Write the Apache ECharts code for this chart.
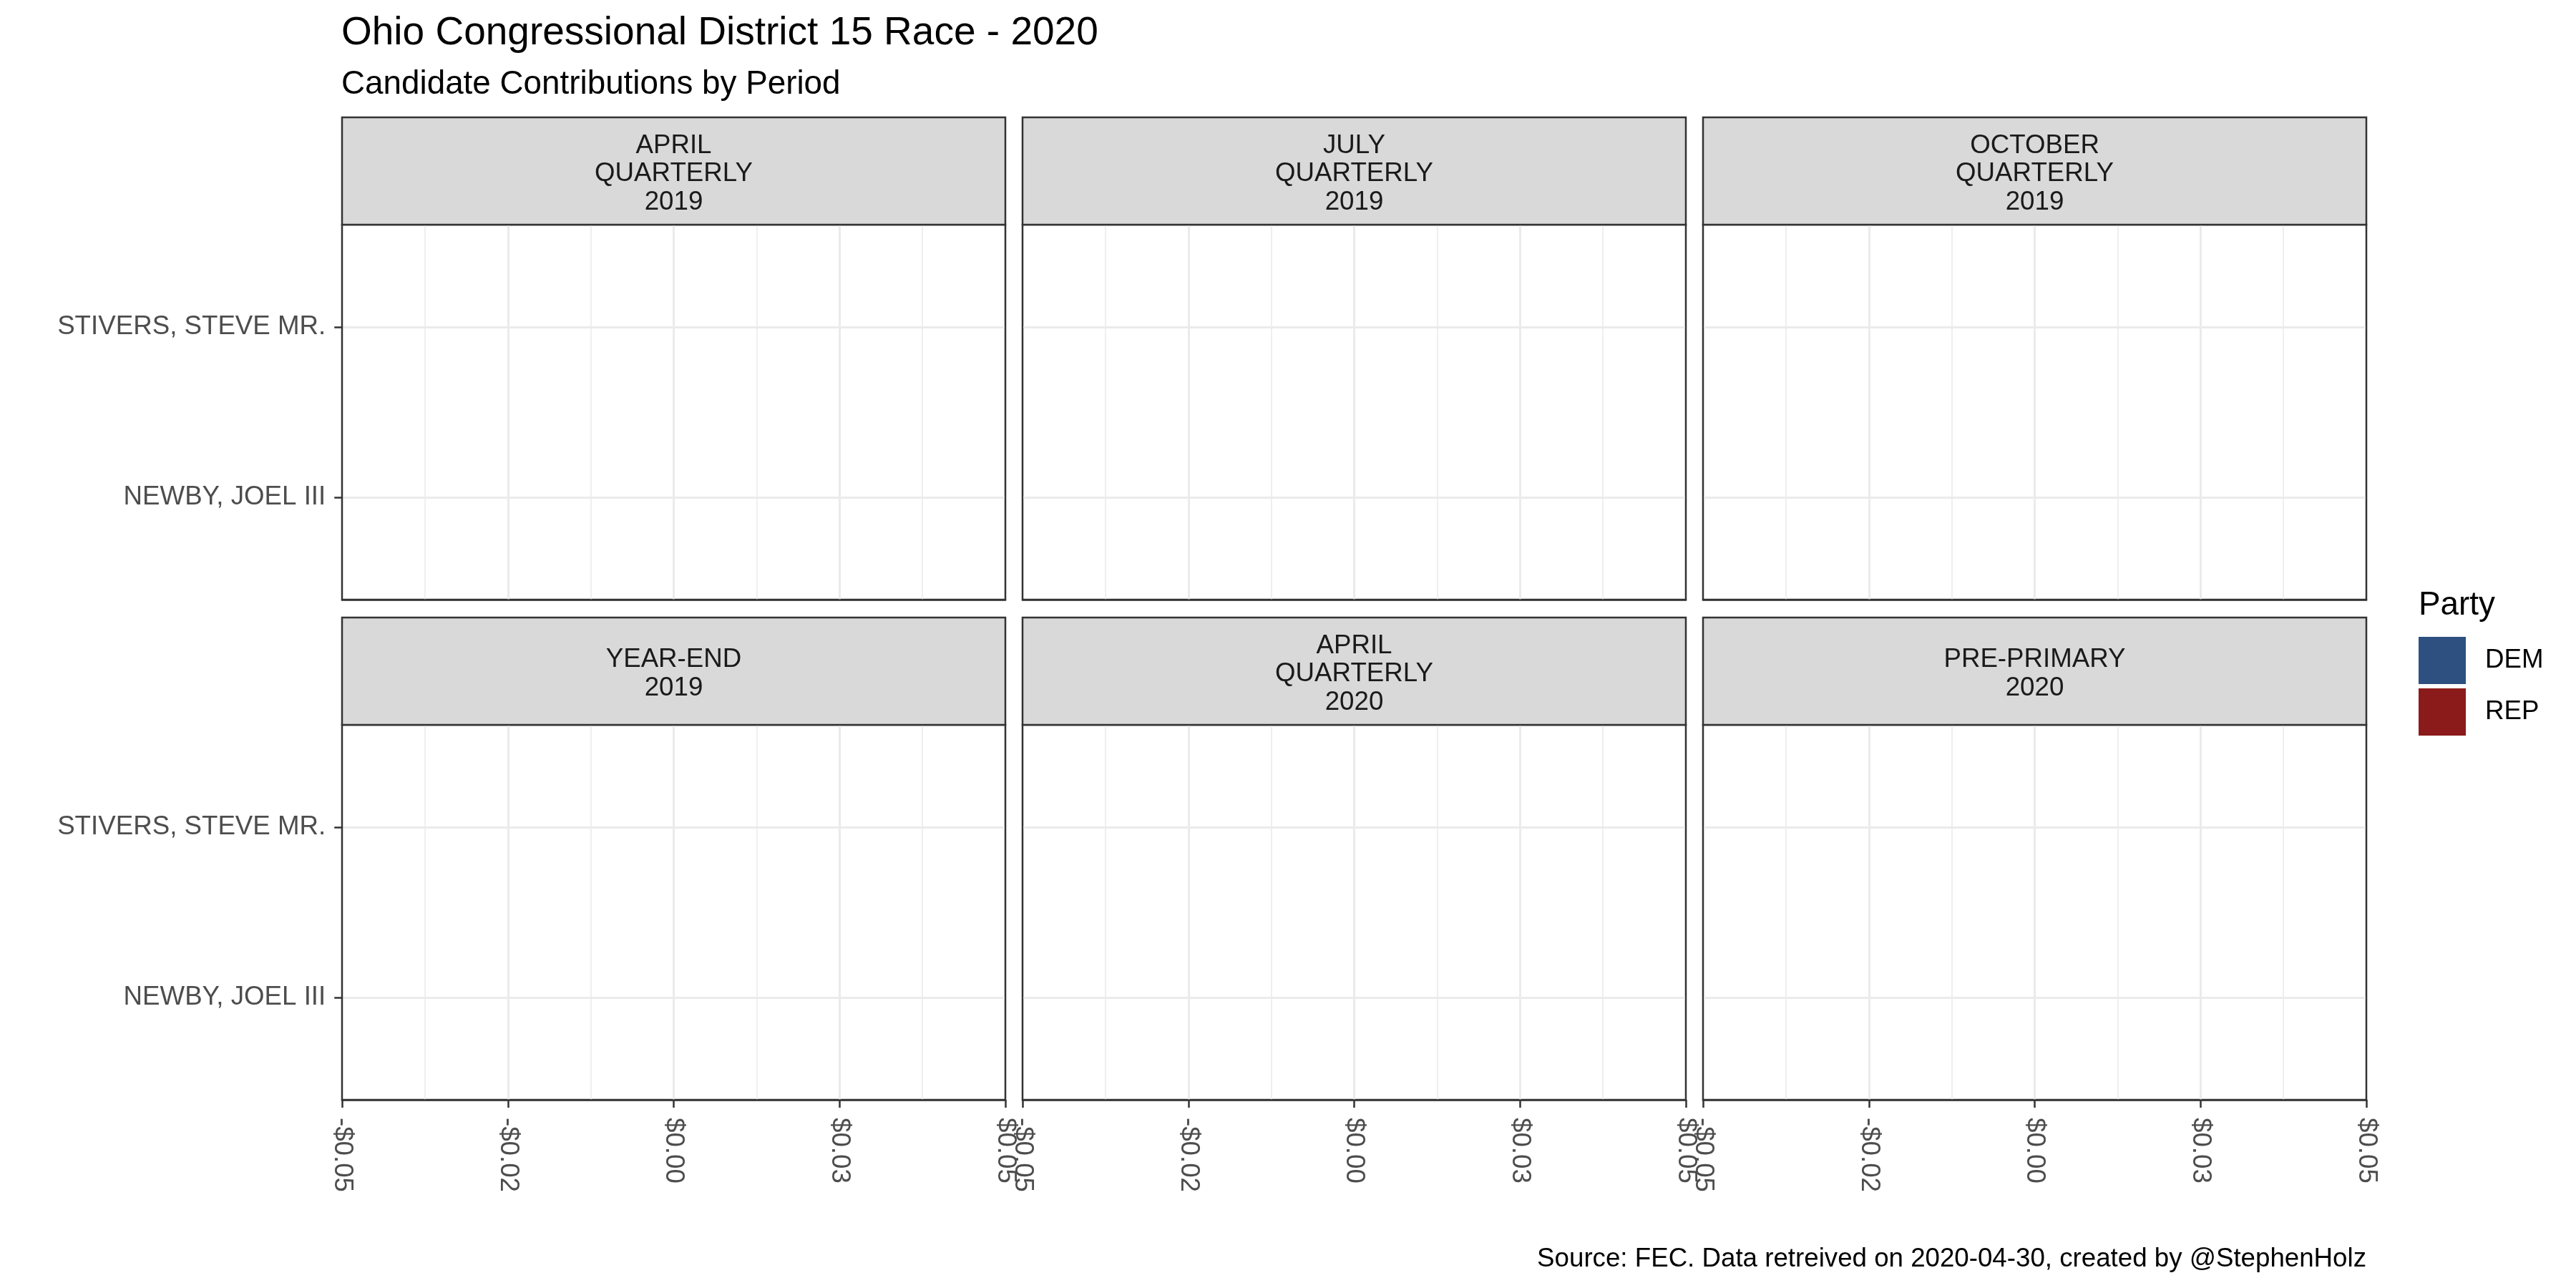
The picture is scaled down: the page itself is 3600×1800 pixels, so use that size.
<!DOCTYPE html>
<html>
<head>
<meta charset="utf-8">
<script src="https://cdn.jsdelivr.net/npm/echarts@6/dist/echarts.min.js"></script>
<style>
html,body{margin:0;padding:0;background:#fff;}
#chart{width:3600px;height:1800px;}
</style>
</head>
<body>
<div id="chart"></div>
<script>
// ---- data ----
const periods = ["APRIL\nQUARTERLY\n2019", "JULY\nQUARTERLY\n2019", "OCTOBER\nQUARTERLY\n2019",
                 "YEAR-END\n2019", "APRIL\nQUARTERLY\n2020", "PRE-PRIMARY\n2020"];
const candidates = ["NEWBY, JOEL III", "STIVERS, STEVE MR."];
const candidateParty = ["DEM", "REP"];
const parties = ["DEM", "REP"];
// contributions per period, per candidate (all zero in the source)
const contributions = [
  [0, 0], [0, 0], [0, 0],
  [0, 0], [0, 0], [0, 0]
];
const xTicks = [-0.05, -0.025, 0, 0.025, 0.05];
const xTickLabels = ["-$0.05", "-$0.02", "$0.00", "$0.03", "$0.05"];

// ---- styles / layout ----
const FONT = "'Liberation Sans', Arial, sans-serif";
const partyColors = { DEM: "#2E5081", REP: "#8B1A1A" };
const colLeft = [478, 1429, 2380];
const panelW = 927;
const stripTop = [164, 863];
const stripH = 150;
const plotTop = [314, 1013];
const plotH = 524;
const unit = plotH / 2.2;
const borderW = 2.5;

const grids = [], xAxes = [], yAxes = [], series = [], graphics = [];

periods.forEach((p, i) => {
  const r = Math.floor(i / 3), c = i % 3;
  const left = colLeft[c];
  const bottomRow = r === 1, leftCol = c === 0;
  // frame grid
  grids.push({ left: left, top: plotTop[r], width: panelW, height: plotH,
    show: true, borderColor: '#333333', borderWidth: borderW, backgroundColor: '#fff' });
  // category grid
  grids.push({ left: left + 1.25, top: plotTop[r] + 0.6 * unit, width: panelW - 2.5, height: unit, show: false });

  xAxes.push({
    gridIndex: 2 * i, type: 'value', min: -0.05, max: 0.05, interval: 0.025, position: 'bottom',
    axisLine: { show: true, onZero: false, lineStyle: { color: '#333333', width: borderW } },
    axisTick: { show: bottomRow, length: 11, lineStyle: { color: '#333333', width: borderW } },
    axisLabel: { show: bottomRow, rotate: -90, margin: 25, fontSize: 36.7, color: '#4D4D4D', fontFamily: FONT,
      showMinLabel: true, showMaxLabel: true,
      formatter: v => { const k = xTicks.findIndex(t => Math.abs(t - v) < 1e-9); return k >= 0 ? xTickLabels[k] : ''; } },
    splitLine: { show: true, showMinLine: false, showMaxLine: false, lineStyle: { color: '#EBEBEB', width: 3 } },
    minorTick: { show: false, splitNumber: 2 },
    minorSplitLine: { show: true, lineStyle: { color: '#EBEBEB', width: 1.6 } }
  });
  yAxes.push({ gridIndex: 2 * i, type: 'value', min: 0, max: 1, show: false });

  xAxes.push({ gridIndex: 2 * i + 1, type: 'value', min: -0.05, max: 0.05, show: false });
  yAxes.push({
    gridIndex: 2 * i + 1, type: 'category', data: candidates, boundaryGap: false, position: 'left',
    axisLine: { show: false, onZero: false },
    axisTick: { show: leftCol, length: 12, lineStyle: { color: '#333333', width: borderW } },
    axisLabel: { show: leftCol, margin: 24, fontSize: 36.7, color: '#4D4D4D', fontFamily: FONT },
    splitLine: { show: true, lineStyle: { color: '#EBEBEB', width: 3 } }
  });

  parties.forEach(party => {
    series.push({
      type: 'bar', name: party, xAxisIndex: 2 * i + 1, yAxisIndex: 2 * i + 1, stack: 'p' + i,
      barWidth: '90%', itemStyle: { color: partyColors[party] },
      data: candidates.map((cn, k) => candidateParty[k] === party ? contributions[i][k] : null)
    });
  });

  graphics.push({
    type: 'rect', z: 100,
    shape: { x: left, y: stripTop[r], width: panelW, height: stripH },
    style: { fill: '#D9D9D9', stroke: '#333333', lineWidth: borderW }
  });
  graphics.push({
    type: 'text', z: 101,
    style: { text: p, x: left + panelW / 2, y: stripTop[r] + stripH / 2 + 4, align: 'center', verticalAlign: 'middle',
      fontSize: 36.7, fontFamily: FONT, lineHeight: 39.5, fill: '#1A1A1A' }
  });
});

const chart = echarts.init(document.getElementById('chart'));
chart.setOption({
  animation: false,
  backgroundColor: '#ffffff',
  title: [
    { text: 'Ohio Congressional District 15 Race - 2020', left: 477, top: 19, padding: 0,
      textStyle: { fontSize: 55, fontWeight: 'normal', color: '#000', fontFamily: FONT } },
    { text: 'Candidate Contributions by Period', left: 477, top: 95, padding: 0,
      textStyle: { fontSize: 45.8, fontWeight: 'normal', color: '#000', fontFamily: FONT } },
    { text: 'Party', left: 3380, top: 823, padding: 0,
      textStyle: { fontSize: 45.8, fontWeight: 'normal', color: '#000', fontFamily: FONT } },
    { text: 'Source: FEC. Data retreived on 2020-04-30, created by @StephenHolz', right: 293, top: 1741, padding: 0,
      textStyle: { fontSize: 36.7, fontWeight: 'normal', color: '#000', fontFamily: FONT } }
  ],
  legend: {
    data: parties, orient: 'vertical', left: 3380, top: 890, padding: 0,
    itemWidth: 66, itemHeight: 66, itemGap: 6, icon: 'rect', selectedMode: false,
    textStyle: { fontSize: 36.7, color: '#000', fontFamily: FONT, padding: [0, 0, 0, 22] }
  },
  grid: grids,
  xAxis: xAxes,
  yAxis: yAxes,
  series: series,
  graphic: graphics
});
</script>
</body>
</html>
